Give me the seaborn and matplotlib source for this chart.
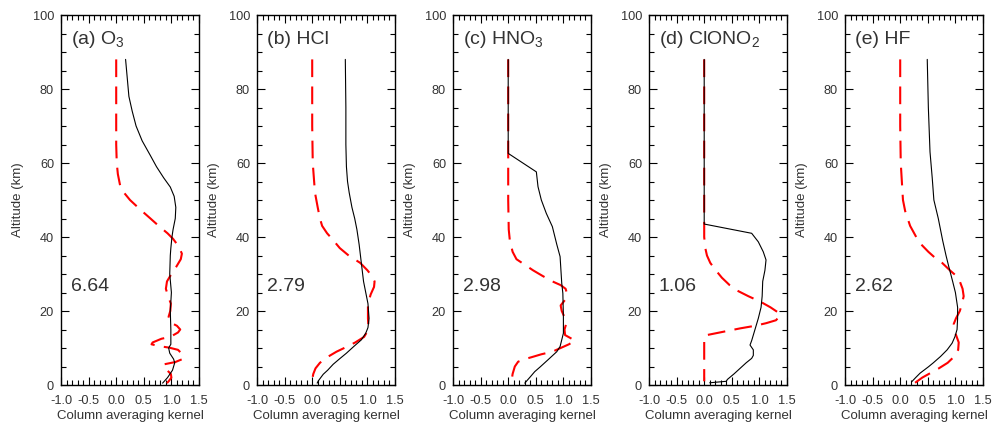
import numpy as np
import pandas as pd
import matplotlib
matplotlib.use("Agg")
import matplotlib.pyplot as plt
import seaborn as sns
from matplotlib.ticker import MultipleLocator, FormatStrFormatter

# ---------------- data ----------------
panel_labels = ["(a)", "(b)", "(c)", "(d)", "(e)"]
species = ["O$_3$", "HCl", "HNO$_3$", "ClONO$_2$", "HF"]
dofs = ["6.64", "2.79", "2.98", "1.06", "2.62"]

# (a) O3 - black solid
o3_alt_k = [88, 83, 78, 74, 70, 66, 62, 59, 56, 53.5, 51, 48, 45, 42, 40, 37, 35, 30, 25, 20, 15, 11, 10, 8.6, 7, 6, 4, 2, 0.5]
o3_k = [0.17, 0.20, 0.23, 0.29, 0.36, 0.47, 0.62, 0.73, 0.86, 0.98, 1.05, 1.08, 1.07, 1.03, 1.01, 0.99, 0.98, 0.97, 1.0, 0.98, 0.99, 0.99, 0.95, 0.97, 1.04, 1.06, 1.02, 0.93, 0.84]
# (a) O3 - red dashed
o3_alt_d = [88, 75, 65, 60, 57, 54, 52, 50, 47.5, 45, 43, 41, 39.5, 37.5, 35.5, 34, 32, 30, 28, 26, 24, 22, 20, 18.5, 17, 16, 15, 14.2, 13, 12.5, 11.5, 11, 10.5, 10.1, 9.5, 8, 7, 6.2, 5.6, 5.0, 4, 3, 2, 1, 0.5]
o3_d = [0.0, 0.0, 0.0, 0.01, 0.03, 0.07, 0.14, 0.25, 0.43, 0.62, 0.77, 0.93, 1.03, 1.13, 1.19, 1.17, 1.09, 1.0, 0.92, 0.90, 0.94, 0.99, 0.98, 0.95, 0.97, 1.10, 1.16, 1.12, 0.98, 0.82, 0.66, 0.64, 0.78, 0.96, 1.12, 1.22, 1.20, 1.07, 0.87, 0.85, 0.92, 0.99, 1.0, 0.95, 0.92]

# (b) HCl
hcl_alt_k = [88, 75, 65, 59, 55, 52, 48, 45, 42, 38, 33, 28, 25, 22, 18, 15.5, 14, 12.2, 10.5, 8.6, 7, 5.6, 4, 2.9, 1.1, 0.5]
hcl_k = [0.60, 0.61, 0.61, 0.62, 0.64, 0.67, 0.72, 0.77, 0.81, 0.85, 0.89, 0.93, 0.97, 1.01, 1.03, 1.01, 0.97, 0.89, 0.76, 0.62, 0.49, 0.38, 0.28, 0.20, 0.11, 0.09]
hcl_alt_d = [88, 70, 60, 52, 48, 45, 43, 41, 39.5, 37, 35, 33, 31, 29.5, 28, 26.5, 24.5, 22, 18, 15.5, 14.5, 13, 11.5, 10.5, 9, 7.5, 6, 4.5, 3, 1.5, 0.5]
hcl_d = [0.0, 0.0, 0.01, 0.05, 0.10, 0.14, 0.18, 0.27, 0.36, 0.50, 0.66, 0.87, 1.0, 1.08, 1.13, 1.12, 1.06, 1.01, 1.01, 1.02, 1.0, 0.94, 0.78, 0.65, 0.44, 0.27, 0.14, 0.06, 0.02, 0.0, 0.0]

# (c) HNO3
hno3_alt_k = [88, 75, 62.6, 57.6, 53.6, 50, 46.4, 42.8, 38, 34.7, 27.5, 24.8, 18.5, 14, 12.2, 10.4, 9.0, 6.8, 4.9, 3.6, 2.2, 0.5]
hno3_k = [0.0, 0.0, 0.0, 0.51, 0.54, 0.60, 0.69, 0.80, 0.88, 0.94, 0.97, 0.99, 1.0, 1.0, 0.97, 0.94, 0.88, 0.72, 0.58, 0.48, 0.40, 0.30]
hno3_alt_d = [88, 70, 50, 42, 39, 36, 34, 32.5, 31, 29.5, 28, 27, 26, 24.5, 23, 21.5, 20, 18, 16.5, 15, 13.5, 12.5, 12, 11, 10, 9, 8.3, 7.5, 7, 6.3, 5, 3, 1, 0.5]
hno3_d = [0.0, 0.0, 0.0, 0.01, 0.03, 0.08, 0.15, 0.30, 0.45, 0.62, 0.80, 0.95, 1.04, 1.07, 1.03, 0.95, 0.97, 1.03, 1.05, 1.02, 1.03, 1.15, 1.21, 1.10, 0.95, 0.80, 0.60, 0.42, 0.30, 0.18, 0.12, 0.08, 0.06, 0.05]

# (d) ClONO2
clono2_alt_k = [88, 60, 43.5, 41, 38.7, 36, 33.8, 31, 28, 24, 21, 18, 15, 12, 10.8, 9.5, 8, 7.2, 6, 4.5, 3, 1.5, 1.0, 0.6]
clono2_k = [0.0, 0.0, 0.0, 0.86, 0.98, 1.07, 1.12, 1.10, 1.06, 1.05, 1.03, 0.98, 0.92, 0.86, 0.83, 0.89, 0.89, 0.86, 0.76, 0.65, 0.54, 0.42, 0.40, 0.10]
clono2_alt_d = [88, 45, 40, 37, 35, 33, 31, 29, 27, 25.5, 24, 22.5, 21, 19.5, 18.8, 17.5, 16.7, 16, 15.3, 14.4, 13.5, 13, 1]
clono2_d = [0.0, 0.0, 0.0, 0.02, 0.05, 0.11, 0.21, 0.32, 0.46, 0.60, 0.80, 1.02, 1.20, 1.35, 1.38, 1.30, 1.12, 0.92, 0.65, 0.35, 0.05, 0.0, 0.0]

# (e) HF
hf_alt_k = [88, 75, 63, 56, 50, 45, 39, 35, 32, 28, 25, 21, 18, 15, 13, 11.3, 9.5, 7.7, 6, 4.9, 3.2, 2, 0.9]
hf_k = [0.49, 0.51, 0.54, 0.58, 0.61, 0.69, 0.77, 0.83, 0.88, 0.95, 1.0, 1.04, 1.04, 1.03, 0.99, 0.94, 0.85, 0.73, 0.60, 0.51, 0.36, 0.28, 0.21]
hf_alt_d = [88, 70, 60, 55, 50, 47, 43, 40, 38, 36, 34, 33, 31, 29.7, 28, 26, 24, 22, 20, 18, 16.5, 14, 11.5, 9.5, 8, 6, 4.5, 3.5, 2, 0.6]
hf_d = [0.0, 0.0, 0.01, 0.03, 0.05, 0.09, 0.18, 0.29, 0.38, 0.51, 0.66, 0.76, 0.90, 1.0, 1.08, 1.13, 1.15, 1.12, 1.08, 1.01, 0.97, 1.0, 1.06, 1.05, 1.0, 0.86, 0.70, 0.58, 0.40, 0.27]

solid_alts = [o3_alt_k, hcl_alt_k, hno3_alt_k, clono2_alt_k, hf_alt_k]
solid_vals = [o3_k, hcl_k, hno3_k, clono2_k, hf_k]
dash_alts = [o3_alt_d, hcl_alt_d, hno3_alt_d, clono2_alt_d, hf_alt_d]
dash_vals = [o3_d, hcl_d, hno3_d, clono2_d, hf_d]

# ---------------- style ----------------
sns.set_theme(style="ticks")
plt.rcParams["font.family"] = ["Liberation Sans", "DejaVu Sans"]
plt.rcParams["mathtext.fontset"] = "custom"
plt.rcParams["mathtext.rm"] = "Liberation Sans"
plt.rcParams["mathtext.it"] = "Liberation Sans"
plt.rcParams["xtick.minor.visible"] = True
plt.rcParams["ytick.minor.visible"] = True
text_col = "#333333"

fig = plt.figure(figsize=(9.92, 4.29), dpi=100)
W, H = 992.0, 429.0
lefts = [61, 257, 453, 649, 845]
ax_w, ax_top, ax_bot = 138, 15, 385

for i in range(5):
    ax = fig.add_axes([lefts[i] / W, (H - ax_bot) / H, ax_w / W, (ax_bot - ax_top) / H])
    dfk = pd.DataFrame({"v": solid_vals[i], "alt": solid_alts[i]})
    dfd = pd.DataFrame({"v": dash_vals[i], "alt": dash_alts[i]})
    sns.lineplot(data=dfd, x="v", y="alt", sort=False, estimator=None, ax=ax,
                 color="#ff0000", linewidth=1.5, linestyle=(0, (8.5, 4.5)))
    sns.lineplot(data=dfk, x="v", y="alt", sort=False, estimator=None, ax=ax,
                 color="black", linewidth=0.8)
    ax.set_xlim(-1.0, 1.5)
    ax.set_ylim(0, 100)
    ax.xaxis.set_major_locator(MultipleLocator(0.5))
    ax.xaxis.set_minor_locator(MultipleLocator(0.1))
    ax.xaxis.set_major_formatter(FormatStrFormatter("%.1f"))
    ax.yaxis.set_major_locator(MultipleLocator(20))
    ax.yaxis.set_minor_locator(MultipleLocator(5))
    ax.tick_params(which="both", direction="in", top=True, right=True,
                   bottom=True, left=True, color="black",
                   labelcolor=text_col, labelsize=9.2)
    ax.tick_params(which="major", length=6, width=0.8)
    ax.tick_params(which="minor", length=3.5, width=0.8)
    ax.tick_params(axis="x", which="major", pad=7)
    ax.tick_params(axis="y", which="major", pad=5)
    for s in ax.spines.values():
        s.set_linewidth(1.0)
        s.set_color("black")
    ax.set_xlabel("Column averaging kernel", fontsize=9.5, color=text_col, labelpad=2)
    ax.set_ylabel("Altitude (km)", fontsize=9.5, color=text_col, labelpad=6)
    ax.text(-0.82, 93.5, panel_labels[i] + " " + species[i], fontsize=14,
            color=text_col, ha="left", va="center")
    ax.text(-0.82, 26.5, dofs[i], fontsize=14, color=text_col, ha="left", va="center")

fig.savefig("out.png", dpi=100)
